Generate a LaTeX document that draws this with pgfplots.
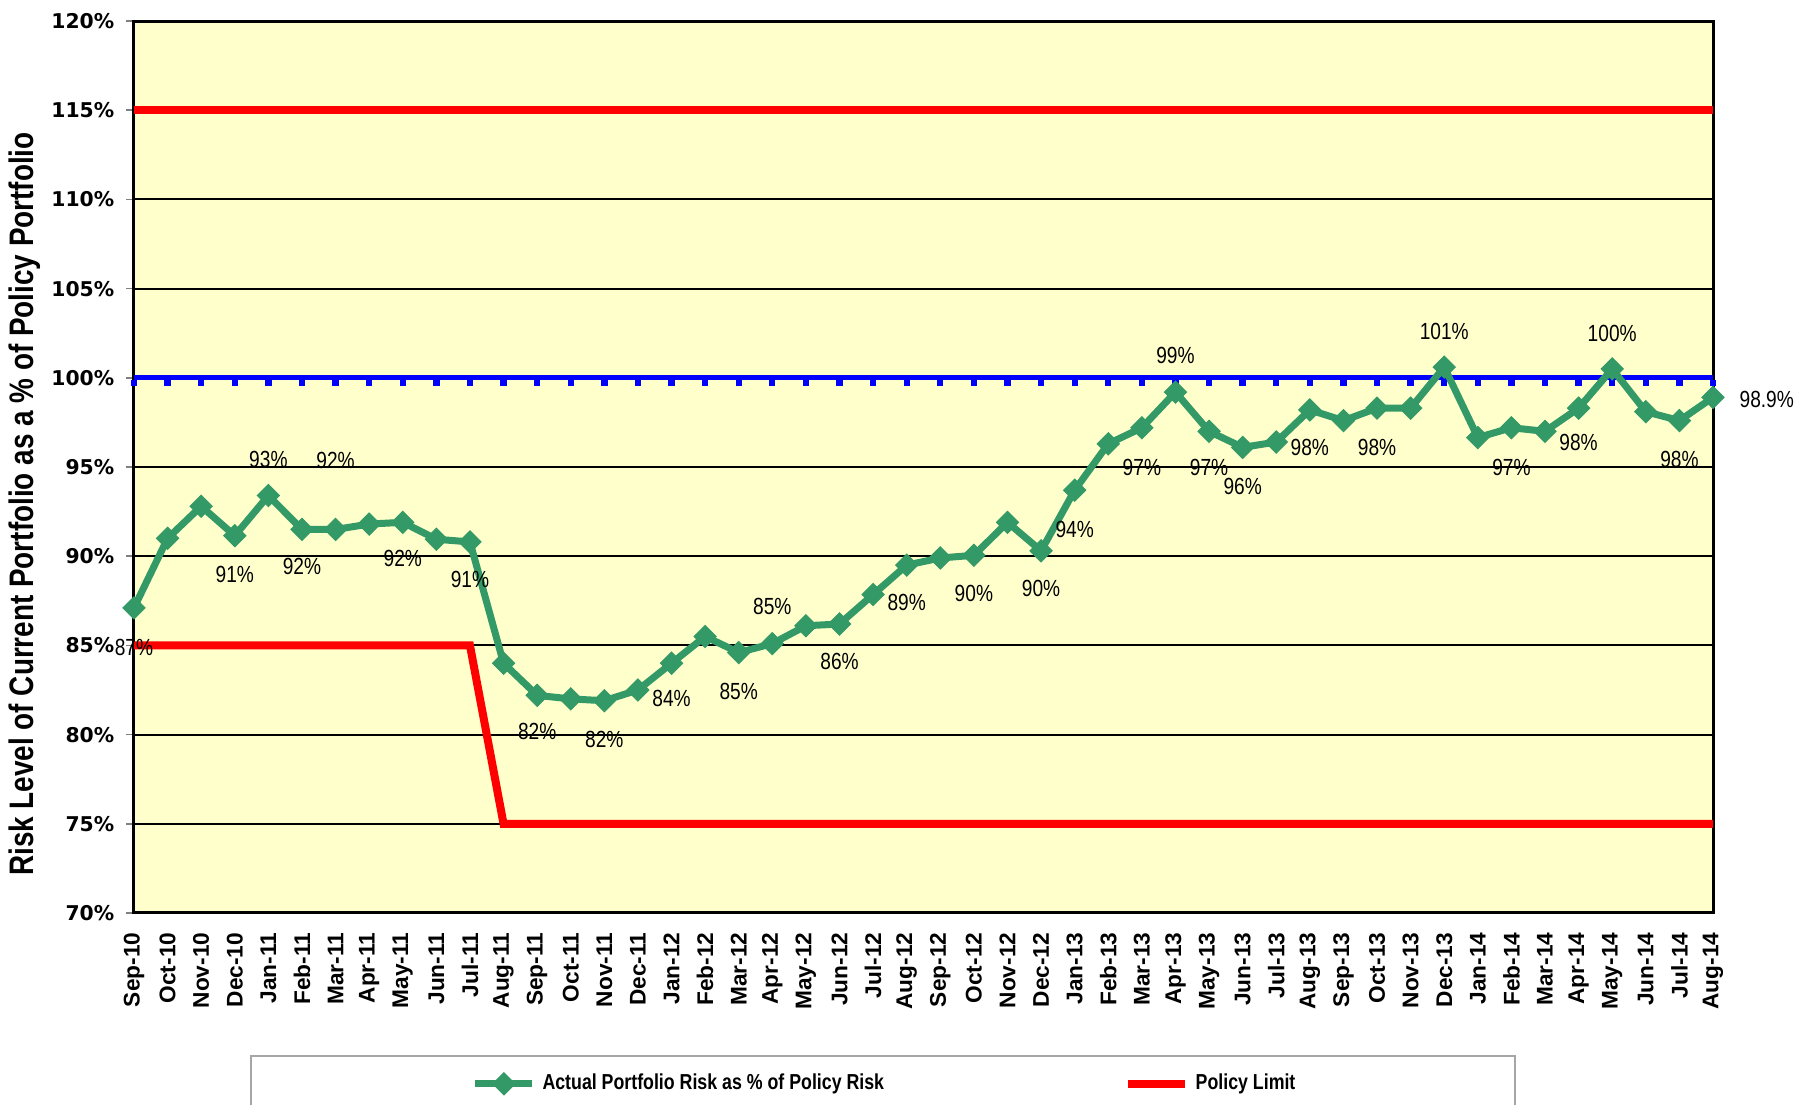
\documentclass[border=0pt]{standalone}
\usepackage{pgfplots}
\pgfplotsset{compat=1.18}
\usepackage{fontspec}
\setmainfont{Liberation Sans}
\newfontfamily\narrowfont[FakeStretch=0.82]{Liberation Sans}
\newfontfamily\widefont{DejaVu Sans}
\definecolor{bgyellow}{RGB}{255,255,204}
\definecolor{riskgreen}{RGB}{51,153,102}
\definecolor{limitred}{RGB}{255,0,0}
\definecolor{refblue}{RGB}{0,0,255}

\begin{document}
\begin{tikzpicture}
\begin{axis}[
    scale only axis,
    width=473.7pt, height=267.6pt,
    at={(0,0)}, anchor=south west,
    xmin=0, xmax=47,
    ymin=70, ymax=120,
    clip=false,
    axis background/.style={fill=bgyellow},
    axis line style={line width=0.9pt},
    ytick={70,75,...,120},
    yticklabel={\pgfmathprintnumber{\tick}\%},
    /pgf/number format/assume math mode=true,
    yticklabel style={font=\widefont\bfseries\fontsize{6.1}{7}\selectfont},
    tick align=outside,
    major tick length=2.4pt,
    ytick style={gray, line width=0.5pt},
    ytick pos=left,
    ymajorgrids,
    grid style={black, line width=0.6pt},
    xtick={0,...,47},
    xticklabels={Sep-10,Oct-10,Nov-10,Dec-10,Jan-11,Feb-11,Mar-11,Apr-11,May-11,Jun-11,Jul-11,Aug-11,
                 Sep-11,Oct-11,Nov-11,Dec-11,Jan-12,Feb-12,Mar-12,Apr-12,May-12,Jun-12,Jul-12,Aug-12,
                 Sep-12,Oct-12,Nov-12,Dec-12,Jan-13,Feb-13,Mar-13,Apr-13,May-13,Jun-13,Jul-13,Aug-13,
                 Sep-13,Oct-13,Nov-13,Dec-13,Jan-14,Feb-14,Mar-14,Apr-14,May-14,Jun-14,Jul-14,Aug-14},
    xtick style={draw=none},
    xticklabel style={rotate=90, anchor=east, font=\bfseries\fontsize{6.8}{8}\selectfont},
    ylabel={Risk Level of Current Portfolio as a \% of Policy Portfolio},
    every axis y label/.style={at={(axis description cs:-0.069,0.4585)}, rotate=90, anchor=center,
        font=\narrowfont\bfseries\fontsize{10.2}{12}\selectfont},
    legend columns=2,
    legend style={draw=none, fill=none, at={(0.4769,-0.1915)}, anchor=center,
        font=\narrowfont\bfseries\fontsize{6.5}{8}\selectfont,
        /tikz/every even column/.append style={column sep=70pt}},
]
% upper policy limit
\addplot[limitred, line width=2.4pt, forget plot] coordinates {(0,115) (47,115)};
% lower policy limit
\addplot[limitred, line width=2.4pt, forget plot] coordinates {(0,85) (10,85) (11,75) (47,75)};
% 100% reference line
\addplot[refblue, line width=1.5pt, mark=square*, mark size=0.8pt, forget plot,
    mark options={yshift=-1.5pt, line width=0pt}] coordinates {
(0,100)(1,100)(2,100)(3,100)(4,100)(5,100)(6,100)(7,100)(8,100)(9,100)(10,100)(11,100)
(12,100)(13,100)(14,100)(15,100)(16,100)(17,100)(18,100)(19,100)(20,100)(21,100)(22,100)(23,100)
(24,100)(25,100)(26,100)(27,100)(28,100)(29,100)(30,100)(31,100)(32,100)(33,100)(34,100)(35,100)
(36,100)(37,100)(38,100)(39,100)(40,100)(41,100)(42,100)(43,100)(44,100)(45,100)(46,100)(47,100)};
% actual portfolio risk
\addplot[riskgreen, line width=2.1pt, mark=square*, mark size=2.35pt,
    mark options={rotate=45, line width=0.3pt, fill=riskgreen}] coordinates {
(0,87.1)(1,91.0)(2,92.8)(3,91.15)(4,93.4)(5,91.5)(6,91.5)(7,91.8)(8,91.9)(9,90.95)(10,90.8)(11,84.0)
(12,82.2)(13,82.0)(14,81.9)(15,82.5)(16,84.0)(17,85.5)(18,84.6)(19,85.1)(20,86.1)(21,86.2)(22,87.85)(23,89.5)
(24,89.9)(25,90.05)(26,91.9)(27,90.3)(28,93.7)(29,96.3)(30,97.2)(31,99.2)(32,97.0)(33,96.1)(34,96.4)(35,98.2)
(36,97.6)(37,98.3)(38,98.3)(39,100.6)(40,96.65)(41,97.2)(42,97.0)(43,98.3)(44,100.5)(45,98.1)(46,97.6)(47,98.9)};
\addlegendentry{Actual Portfolio Risk as \% of Policy Risk}
\addlegendimage{limitred, line width=2.4pt}
\addlegendentry{Policy Limit}
% data labels
\addplot[draw=none, mark=none, forget plot,
    nodes near coords={\pgfplotspointmeta\%}, point meta=explicit symbolic,
    nodes near coords style={anchor=center, inner sep=0pt, text=black,
        font=\narrowfont\fontsize{7}{8}\selectfont}] table[meta=lab] {
x y lab
0 84.9 87
3 89.0 91
4 95.4 93
5 89.4 92
6 95.35 92
8 89.85 92
10 88.7 91
12 80.15 82
14 79.7 82
16 82.0 84
18 82.4 85
19 87.2 85
21 84.1 86
23 87.4 89
25 87.9 90
27 88.2 90
28 91.5 94
30 95.0 97
31 101.25 99
32 95.0 97
33 93.9 96
35 96.1 98
37 96.1 98
39 102.6 101
41 95.0 97
43 96.4 98
44 102.5 100
46 95.4 98
48.6 98.8 98.9
};
\end{axis}
% legend frame (runs off the bottom of the page)
\draw[gray!70, line width=0.5pt] (35.1pt,-75pt) -- (35.1pt,-42.9pt) -- (414.3pt,-42.9pt) -- (414.3pt,-75pt);
\pgfresetboundingbox
\path (-40.2pt,-57.6pt) rectangle (502.5pt,273.9pt);
\end{tikzpicture}
\end{document}
